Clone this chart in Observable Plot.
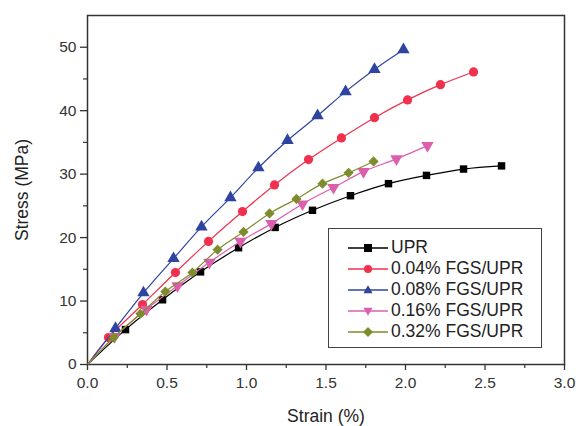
<!DOCTYPE html>
<html>
<head>
<meta charset="utf-8">
<script src="https://cdn.jsdelivr.net/npm/d3@7"></script>
<script src="https://cdn.jsdelivr.net/npm/@observablehq/plot@0.6"></script>
<style>
  html, body { margin: 0; padding: 0; background: #fff; }
  #wrap { position: relative; width: 582px; height: 426px; font-family: "Liberation Sans", Arial, sans-serif; }
  #legend { position: absolute; left: 328px; top: 228px; width: 214px; height: 120px; border: 1px solid #444; background: #fff; box-sizing: border-box; padding-top: 8px; }
  .row { display: flex; align-items: center; height: 21px; font-size: 17.5px; color: #222; }
  .row svg { margin-left: 18px; margin-right: 2px; }
</style>
</head>
<body>
<div id="wrap"></div>
<script>
const seriesNames = ["UPR", "0.04% FGS/UPR", "0.08% FGS/UPR", "0.16% FGS/UPR", "0.32% FGS/UPR"];
const seriesColors = ["#000000", "#f0304c", "#2e44a0", "#dc5fae", "#7f8c2e"];
const seriesSymbols = ["square", "circle", "triangle", "triangle-down", "diamond2"];

const strainUPR = [0, 0.239, 0.472, 0.711, 0.95, 1.18, 1.415, 1.654, 1.893, 2.132, 2.365, 2.604];
const stressUPR = [0, 5.5, 10.2, 14.6, 18.4, 21.6, 24.3, 26.6, 28.5, 29.8, 30.8, 31.3];

const strain004 = [0, 0.132, 0.346, 0.553, 0.761, 0.975, 1.176, 1.39, 1.597, 1.805, 2.013, 2.22, 2.428];
const stress004 = [0, 4.25, 9.45, 14.5, 19.4, 24.1, 28.3, 32.3, 35.7, 38.9, 41.7, 44.1, 46.1];

const strain008 = [0, 0.176, 0.352, 0.541, 0.717, 0.899, 1.075, 1.258, 1.447, 1.623, 1.805, 1.987];
const stress008 = [0, 5.7, 11.3, 16.7, 21.7, 26.3, 31.0, 35.3, 39.2, 43.0, 46.5, 49.6];

const strain016 = [0, 0.17, 0.371, 0.566, 0.767, 0.962, 1.157, 1.352, 1.547, 1.736, 1.943, 2.138];
const stress016 = [0, 4.4, 8.7, 12.4, 16.1, 19.4, 22.2, 25.3, 27.9, 30.4, 32.4, 34.5];

const strain032 = [0, 0.164, 0.333, 0.49, 0.66, 0.818, 0.981, 1.145, 1.314, 1.478, 1.642, 1.799];
const stress032 = [0, 4.25, 8.0, 11.5, 14.5, 18.1, 20.9, 23.8, 26.1, 28.5, 30.2, 32.0];

const xTicks = [0, 0.5, 1.0, 1.5, 2.0, 2.5, 3.0];
const xMinor = [0.25, 0.75, 1.25, 1.75, 2.25, 2.75];
const yTicks = [0, 10, 20, 30, 40, 50];
const yMinor = [5, 15, 25, 35, 45];

const strains = [strainUPR, strain004, strain008, strain016, strain032];
const stresses = [stressUPR, stress004, stress008, stress016, stress032];

const rows = [];
strains.forEach((xs, s) => xs.forEach((x, i) => rows.push({series: seriesNames[s], idx: i, strain: x, stress: stresses[s][i]})));
const markerRows = rows.filter(d => d.idx > 0);

const marks = [Plot.frame({stroke: "#333", strokeWidth: 1.5})];
seriesNames.forEach((name, s) => {
  const color = seriesColors[s];
  const sym = seriesSymbols[s];
  const data = rows.filter(d => d.series === name);
  marks.push(Plot.line(data, {x: "strain", y: "stress", stroke: color, strokeWidth: 1.2, curve: "catmull-rom"}));
  const md = markerRows.filter(d => d.series === name);
  if (sym === "triangle-down") {
    marks.push(Plot.dot(md, {x: "strain", y: "stress", symbol: "triangle", rotate: 180, r: 4.6, fill: color, stroke: "none"}));
  } else {
    marks.push(Plot.dot(md, {x: "strain", y: "stress", symbol: sym, r: sym === "square" ? 4.2 : 4.6, fill: color, stroke: "none"}));
  }
});

marks.push(
  Plot.axisX({ticks: xTicks, tickFormat: d3.format(".1f"), tickSize: 6, tickPadding: 6, fontSize: 15.5, label: null, stroke: "#333", strokeWidth: 1.3, color: "#333"}),
  Plot.axisX({ticks: xMinor, tickSize: 4, text: null, label: null, stroke: "#333", strokeWidth: 1.2}),
  Plot.axisX({ticks: [], label: "Strain (%)", labelAnchor: "center", labelArrow: "none", labelOffset: 57, fontSize: 17.5, color: "#222"}),
  Plot.axisY({ticks: yTicks, tickSize: 7, tickPadding: 4, fontSize: 15.5, label: null, stroke: "#333", strokeWidth: 1.3, color: "#333"}),
  Plot.axisY({ticks: yMinor, tickSize: 4, text: null, label: null, stroke: "#333", strokeWidth: 1.2}),
  Plot.axisY({ticks: [], label: "Stress (MPa)", labelAnchor: "center", labelArrow: "none", labelOffset: 72, fontSize: 17.5, color: "#222"})
);

const chart = Plot.plot({
  width: 582,
  height: 426,
  marginLeft: 87,
  marginRight: 18,
  marginTop: 15,
  marginBottom: 62,
  x: {domain: [0, 3]},
  y: {domain: [0, 55]},
  style: {fontFamily: "Liberation Sans, Arial, sans-serif", background: "#fff"},
  marks
});

const wrap = document.getElementById("wrap");
wrap.appendChild(chart);

const legend = document.createElement("div");
legend.id = "legend";
const symPaths = {
  "square": "M-4,-4h8v8h-8z",
  "circle": "M4,0A4,4 0 1,1 -4,0A4,4 0 1,1 4,0z",
  "triangle": "M0,-4.8L4.6,3.2L-4.6,3.2z",
  "triangle-down": "M0,4.8L4.6,-3.2L-4.6,-3.2z",
  "diamond2": "M0,-5L5,0L0,5L-5,0z"
};
seriesNames.forEach((name, s) => {
  const row = document.createElement("div");
  row.className = "row";
  row.innerHTML = `<svg width="42" height="14" viewBox="-21 -7 42 14"><line x1="-20" x2="20" y1="0" y2="0" stroke="${seriesColors[s]}" stroke-width="1.3"/><path d="${symPaths[seriesSymbols[s]]}" fill="${seriesColors[s]}"/></svg><span>${name}</span>`;
  legend.appendChild(row);
});
wrap.appendChild(legend);
</script>
</body>
</html>
